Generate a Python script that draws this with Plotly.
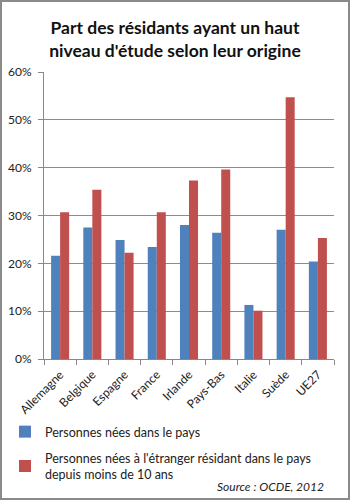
import plotly.graph_objects as go

# Share of residents with a high level of education, by origin
pays = ["Allemagne", "Belgique", "Espagne", "France", "Irlande",
        "Pays-Bas", "Italie", "Suède", "UE27"]
nes_dans_pays = [21.6, 27.5, 24.9, 23.4, 28.0, 26.4, 11.3, 27.0, 20.4]
nes_etranger = [30.7, 35.4, 22.2, 30.7, 37.3, 39.6, 10.1, 54.7, 25.3]
y_ticks = [0, 10, 20, 30, 40, 50, 60]

W, H = 350, 500
L, R, T, B = 44, 16, 72, 141
pw, ph = W - L - R, H - T - B

font = "Lato"

fig = go.Figure()
fig.add_trace(go.Bar(
    x=pays, y=nes_dans_pays, name="Personnes nées dans le pays",
    legendgroup="a",
    marker=dict(color="#4F81BD", line=dict(width=0)),
))
fig.add_trace(go.Bar(
    x=pays, y=nes_etranger,
    name="Personnes nées à l'étranger résidant dans le pays<br>depuis moins de 10 ans",
    legendgroup="b",
    marker=dict(color="#C0504D", line=dict(width=0)),
))

def px_x(v):
    return (v - L) / pw

def px_y(v):
    return 1 - (v - T) / ph

fig.update_layout(
    width=W, height=H,
    margin=dict(l=L, r=R, t=T, b=B, pad=0, autoexpand=False),
    paper_bgcolor="white", plot_bgcolor="white",
    barmode="group", bargap=0.44, bargroupgap=0,
    font=dict(family=font, color="#222", size=12),
    title=dict(
        text="<b>Part des résidants ayant un haut<br>niveau d'étude selon leur origine</b>",
        x=0.5, xanchor="center", y=1 - 34 / H, yanchor="middle",
        font=dict(family=font, size=17.5, color="#111"),
    ),
    showlegend=True,
    legend=dict(
        x=px_x(5), xanchor="left", y=px_y(417), yanchor="top",
        font=dict(family=font, size=12.5, color="#222"),
        traceorder="grouped", tracegroupgap=7,
        bgcolor="rgba(0,0,0,0)",
    ),
    xaxis=dict(
        tickangle=-45, showline=True, linecolor="#888", linewidth=1,
        ticks="outside", ticklen=5, tickcolor="#888",
        tickson="boundaries", showgrid=False, automargin=False,
        ticklabelstandoff=3,
        tickfont=dict(family=font, size=12, color="#222"),
        fixedrange=True,
    ),
    yaxis=dict(
        range=[0, 60], tickvals=y_ticks,
        ticktext=[f"{v}%" for v in y_ticks],
        showgrid=True, gridcolor="#8c8c8c", gridwidth=1,
        showline=True, linecolor="#888", linewidth=1,
        ticks="outside", ticklen=5, tickcolor="#888",
        ticklabelstandoff=4, automargin=False,
        zeroline=False,
        tickfont=dict(family=font, size=12, color="#222"),
        fixedrange=True,
    ),
    annotations=[dict(
        text="<i>Source : OCDE, 2012</i>",
        xref="paper", yref="paper", x=px_x(326), y=px_y(486),
        xanchor="right", yanchor="middle", showarrow=False,
        font=dict(family=font, size=12, color="#222"),
    )],
    shapes=[dict(
        type="rect", xref="paper", yref="paper",
        x0=px_x(1), x1=px_x(W - 1), y0=px_y(H - 1), y1=px_y(1),
        line=dict(color="#8a8a8a", width=2), layer="above",
    )],
)

fig.write_html("out.html")
